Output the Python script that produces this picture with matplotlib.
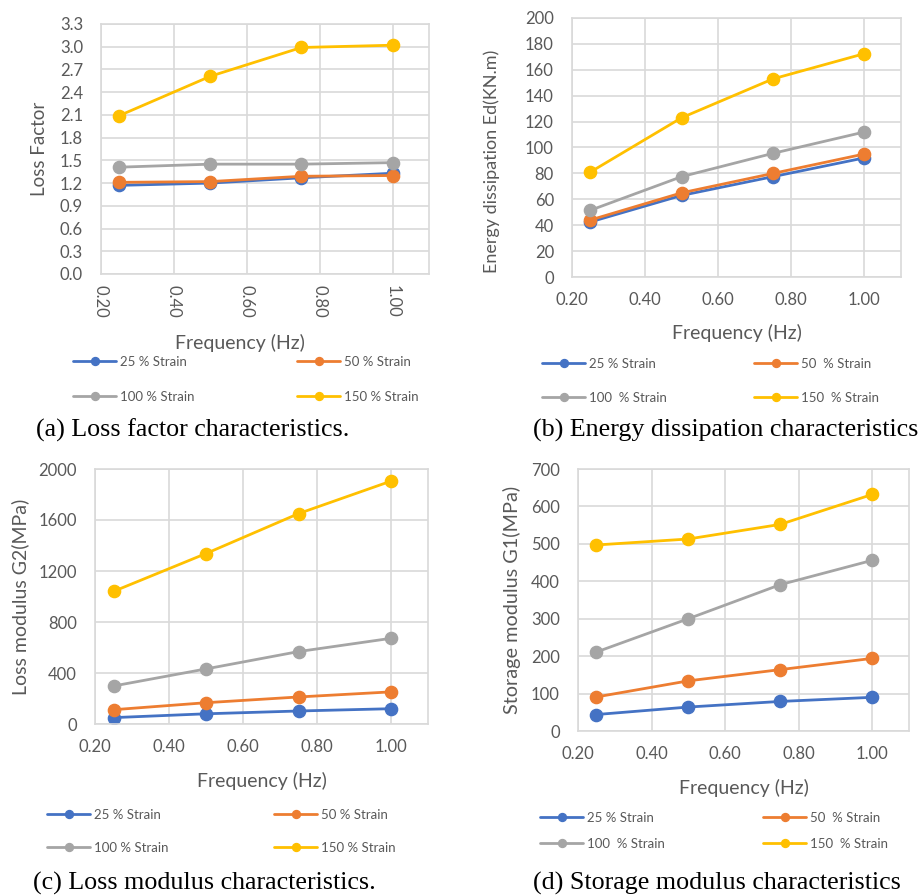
import matplotlib
matplotlib.use("Agg")
import matplotlib.pyplot as plt
from matplotlib.ticker import FormatStrFormatter

plt.rcParams['font.family'] = ['Lato', 'DejaVu Sans']

# frequency sweep and strain levels
freq = [0.25, 0.50, 0.75, 1.00]
strain_labels = ["25 % Strain", "50 % Strain", "100 % Strain", "150 % Strain"]
strain_labels_wide = ["25 % Strain", "50  % Strain", "100  % Strain", "150  % Strain"]
colors = ["#4472C4", "#ED7D31", "#A5A5A5", "#FFC000"]

# loss factor per strain level
loss_factor = [
    [1.17, 1.20, 1.27, 1.33],
    [1.21, 1.22, 1.29, 1.30],
    [1.41, 1.45, 1.45, 1.47],
    [2.09, 2.61, 2.99, 3.02],
]
# energy dissipation Ed (KN.m)
energy = [
    [42.5, 63.0, 77.5, 92.0],
    [44.0, 65.0, 80.0, 95.0],
    [51.5, 77.5, 95.5, 112.0],
    [81.0, 123.0, 153.0, 172.5],
]
# loss modulus G2 (MPa)
loss_modulus = [
    [50, 80, 102, 120],
    [112, 167, 212, 252],
    [298, 432, 568, 672],
    [1040, 1337, 1650, 1905],
]
# storage modulus G1 (MPa)
storage_modulus = [
    [44, 64, 79, 90],
    [91, 134, 164, 194],
    [211, 300, 391, 456],
    [497, 513, 552, 632],
]

W, H = 921, 896
fig = plt.figure(figsize=(W / 100, H / 100), dpi=100)

GRID = "#d9d9d9"
TXT = "#595959"
LEG_FS = 9.5


def px_axes(l, t, r, b):
    return fig.add_axes([l / W, 1 - b / H, (r - l) / W, (b - t) / H])


def draw_panel(box, data, ymax, ystep, yfmt, ylabel, ylab_pos, ylab_size,
               xlab_pos, labels, leg_cols, leg_rows, caption, cap_pos,
               rotate_x=False):
    ax = px_axes(*box)
    lines = []
    for vals, c, lab in zip(data, colors, labels):
        ln, = ax.plot(freq, vals, color=c, lw=2.0, marker='o', ms=8.8,
                      label=lab, solid_capstyle='round')
        lines.append(ln)
    ax.set_xlim(0.2, 1.1)
    ax.set_ylim(0, ymax)
    ax.set_xticks([0.2, 0.4, 0.6, 0.8, 1.0])
    n = int(round(ymax / ystep))
    ax.set_yticks([i * ystep for i in range(n + 1)])
    ax.xaxis.set_major_formatter(FormatStrFormatter('%.2f'))
    ax.yaxis.set_major_formatter(FormatStrFormatter(yfmt))
    ax.grid(True, color=GRID, lw=1.2)
    ax.set_axisbelow(True)
    for s in ax.spines.values():
        s.set_color(GRID)
        s.set_linewidth(1.2)
    ax.tick_params(length=0, labelsize=12, colors=TXT)
    ax.tick_params(axis='y', pad=13)
    if rotate_x:
        ax.tick_params(axis='x', pad=8, labelrotation=-90)
    else:
        ax.tick_params(axis='x', pad=11)

    ax.set_xlabel("Frequency (Hz)", fontsize=14, color=TXT)
    ax.xaxis.set_label_coords(*xlab_pos)
    ax.xaxis.label.set_va('center')
    ax.set_ylabel(ylabel, fontsize=ylab_size, color=TXT)
    ax.yaxis.set_label_coords(*ylab_pos)
    ax.yaxis.label.set_va('center')

    # two legend columns below the axes, row-wise order
    row_h = leg_rows[1] - leg_rows[0]
    fs_px = LEG_FS * 100 / 72
    for k, xcol in enumerate(leg_cols):
        hs = [lines[k], lines[k + 2]]
        leg = fig.legend(hs, [labels[k], labels[k + 2]], loc='upper left',
                         bbox_to_anchor=(xcol / W, 1 - (leg_rows[0] - 5) / H),
                         frameon=False, fontsize=LEG_FS, borderpad=0,
                         borderaxespad=0, handlelength=43 / fs_px,
                         handletextpad=0.3,
                         labelspacing=(row_h - 12.5) / fs_px, markerscale=0.65)
        for t in leg.get_texts():
            t.set_color(TXT)

    fig.text(cap_pos[0] / W, 1 - cap_pos[1] / H, caption, fontsize=18.7,
             family='Liberation Serif', ha='left', va='center', color='black')
    return ax


draw_panel((101, 24, 429, 274), loss_factor, 3.3, 0.3, '%.1f', "Loss Factor",
           (-0.189, 0.5), 13.5, (0.425, -0.276), strain_labels,
           (73, 297), (361, 396), "(a) Loss factor characteristics.", (36, 430),
           rotate_x=True)

draw_panel((572, 18, 901, 277), energy, 200, 20, '%d', "Energy dissipation Ed(KN.m)",
           (-0.245, 0.447), 13, (0.5, -0.217), strain_labels_wide,
           (542, 754), (363, 397), "(b) Energy dissipation characteristics", (533, 430))

draw_panel((95, 469, 428, 724), loss_modulus, 2000, 400, '%d', "Loss modulus G2(MPa)",
           (-0.226, 0.5), 14, (0.5, -0.224), strain_labels,
           (47, 274), (814, 847), "(c) Loss modulus characteristics.", (33, 883))

draw_panel((578, 469, 909, 731), storage_modulus, 700, 100, '%d', "Storage modulus G1(MPa)",
           (-0.199, 0.5), 14.3, (0.5, -0.218), strain_labels_wide,
           (540, 763), (817, 843), "(d) Storage modulus characteristics", (533, 883))

fig.savefig("out.png", dpi=100)
